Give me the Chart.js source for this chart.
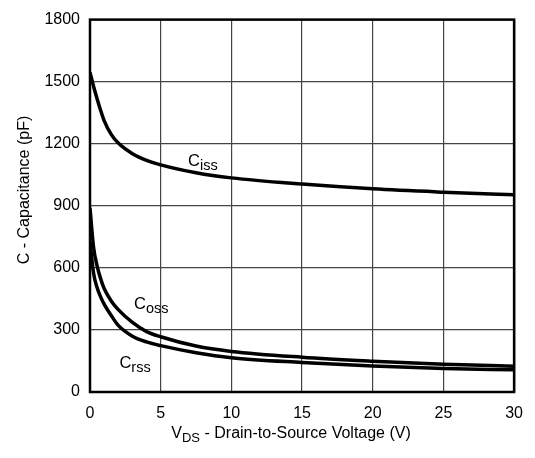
<!DOCTYPE html>
<html>
<head>
<meta charset="utf-8">
<script src="https://cdn.jsdelivr.net/npm/chart.js@4.4.1/dist/chart.umd.min.js"></script>
<style>
  html, body { margin: 0; padding: 0; background: #fff; }
  canvas { display: block; }
</style>
</head>
<body>
<canvas id="capChart" width="535" height="458"></canvas>
<script>
  // Data
  const vds  = [0, 0.25, 0.5, 0.75, 1, 1.5, 2, 3, 4, 5, 7.5, 10, 15, 20, 25, 30];
  const ciss = [1545, 1478, 1418, 1362, 1312, 1245, 1203, 1152, 1120, 1098, 1060, 1035, 1005, 982, 966, 953];
  const coss = [890, 700, 610, 548, 500, 440, 398, 336, 292, 267, 222, 196, 168, 149, 134, 125];
  const crss = [725, 575, 505, 460, 425, 370, 322, 270, 242, 224, 190, 166, 143, 126, 114, 107];

  const FONT = "'Liberation Sans', Arial, Helvetica, sans-serif";

  function toPoints(ys) {
      return vds.map((v, i) => ({ x: v, y: ys[i] }));
  }

  // draws C + subscript text
  function subText(ctx, x, y, main, sub, size, subSize, drop) {
      ctx.font = size + 'px ' + FONT;
      ctx.fillText(main, x, y);
      const w = ctx.measureText(main).width;
      ctx.font = subSize + 'px ' + FONT;
      ctx.fillText(sub, x + w, y + drop);
  }

  const annotations = {
      id: 'annotations',
      afterDraw(chart) {
          const { ctx, chartArea: a, scales } = chart;
          const sx = scales.x, sy = scales.y;
          ctx.save();

          // plot frame
          ctx.strokeStyle = '#000';
          ctx.lineWidth = 2.5;
          ctx.strokeRect(a.left, a.top, a.right - a.left, a.bottom - a.top);

          ctx.fillStyle = '#000';
          ctx.textBaseline = 'alphabetic';
          ctx.textAlign = 'left';

          // curve labels
          subText(ctx, sx.getPixelForValue(6.94), sy.getPixelForValue(1093), 'C', 'iss', 16.5, 14.5, 4);
          subText(ctx, sx.getPixelForValue(3.12), sy.getPixelForValue(401), 'C', 'oss', 16.5, 14.5, 4);
          subText(ctx, sx.getPixelForValue(2.08), sy.getPixelForValue(115), 'C', 'rss', 16.5, 14.5, 4);

          // x axis title with subscript
          ctx.font = '16px ' + FONT;
          const wV = ctx.measureText('V').width;
          const rest = ' - Drain-to-Source Voltage (V)';
          const wRest = ctx.measureText(rest).width;
          ctx.font = '13px ' + FONT;
          const wDS = ctx.measureText('DS').width;
          const tx = (a.left + a.right) / 2 - (wV + wDS + wRest) / 2 - 11;
          ctx.font = '16px ' + FONT;
          ctx.fillText('V', tx, 438);
          ctx.font = '13px ' + FONT;
          ctx.fillText('DS', tx + wV, 442);
          ctx.font = '16px ' + FONT;
          ctx.fillText(rest, tx + wV + wDS, 438);

          // y axis title
          ctx.translate(28.5, 190);
          ctx.rotate(-Math.PI / 2);
          ctx.textAlign = 'center';
          ctx.font = '16px ' + FONT;
          ctx.fillText('C - Capacitance (pF)', 0, 0);

          ctx.restore();
      }
  };

  const lineStyle = {
      borderColor: '#000',
      borderWidth: 3.5,
      pointRadius: 0,
      fill: false,
      cubicInterpolationMode: 'monotone'
  };

  const ctx = document.getElementById('capChart').getContext('2d');
  const capChart = new Chart(ctx, {
      type: 'line',
      data: {
          datasets: [
              { label: 'Ciss', data: toPoints(ciss), ...lineStyle },
              { label: 'Coss', data: toPoints(coss), ...lineStyle },
              { label: 'Crss', data: toPoints(crss), ...lineStyle }
          ]
      },
      options: {
          responsive: false,
          animation: false,
          layout: { padding: { top: 15, right: 13, left: 0, bottom: 0 } },
          plugins: {
              legend: { display: false },
              tooltip: { enabled: false }
          },
          scales: {
              x: {
                  type: 'linear',
                  min: 0,
                  max: 30,
                  ticks: { stepSize: 5, color: '#000', padding: 12, font: { family: FONT, size: 16 },
                           callback: v => String(v) },
                  grid: { color: '#444', lineWidth: 1.2, drawTicks: false },
                  border: { display: false },
                  afterFit: s => { s.height = 66; }
              },
              y: {
                  min: 0,
                  max: 1800,
                  ticks: { stepSize: 300, color: '#000', padding: 10, font: { family: FONT, size: 16 },
                           callback: v => String(v) },
                  grid: { color: '#444', lineWidth: 1.2, drawTicks: false },
                  border: { display: false },
                  afterFit: s => { s.width = 90; }
              }
          }
      },
      plugins: [annotations]
  });
</script>
</body>
</html>
